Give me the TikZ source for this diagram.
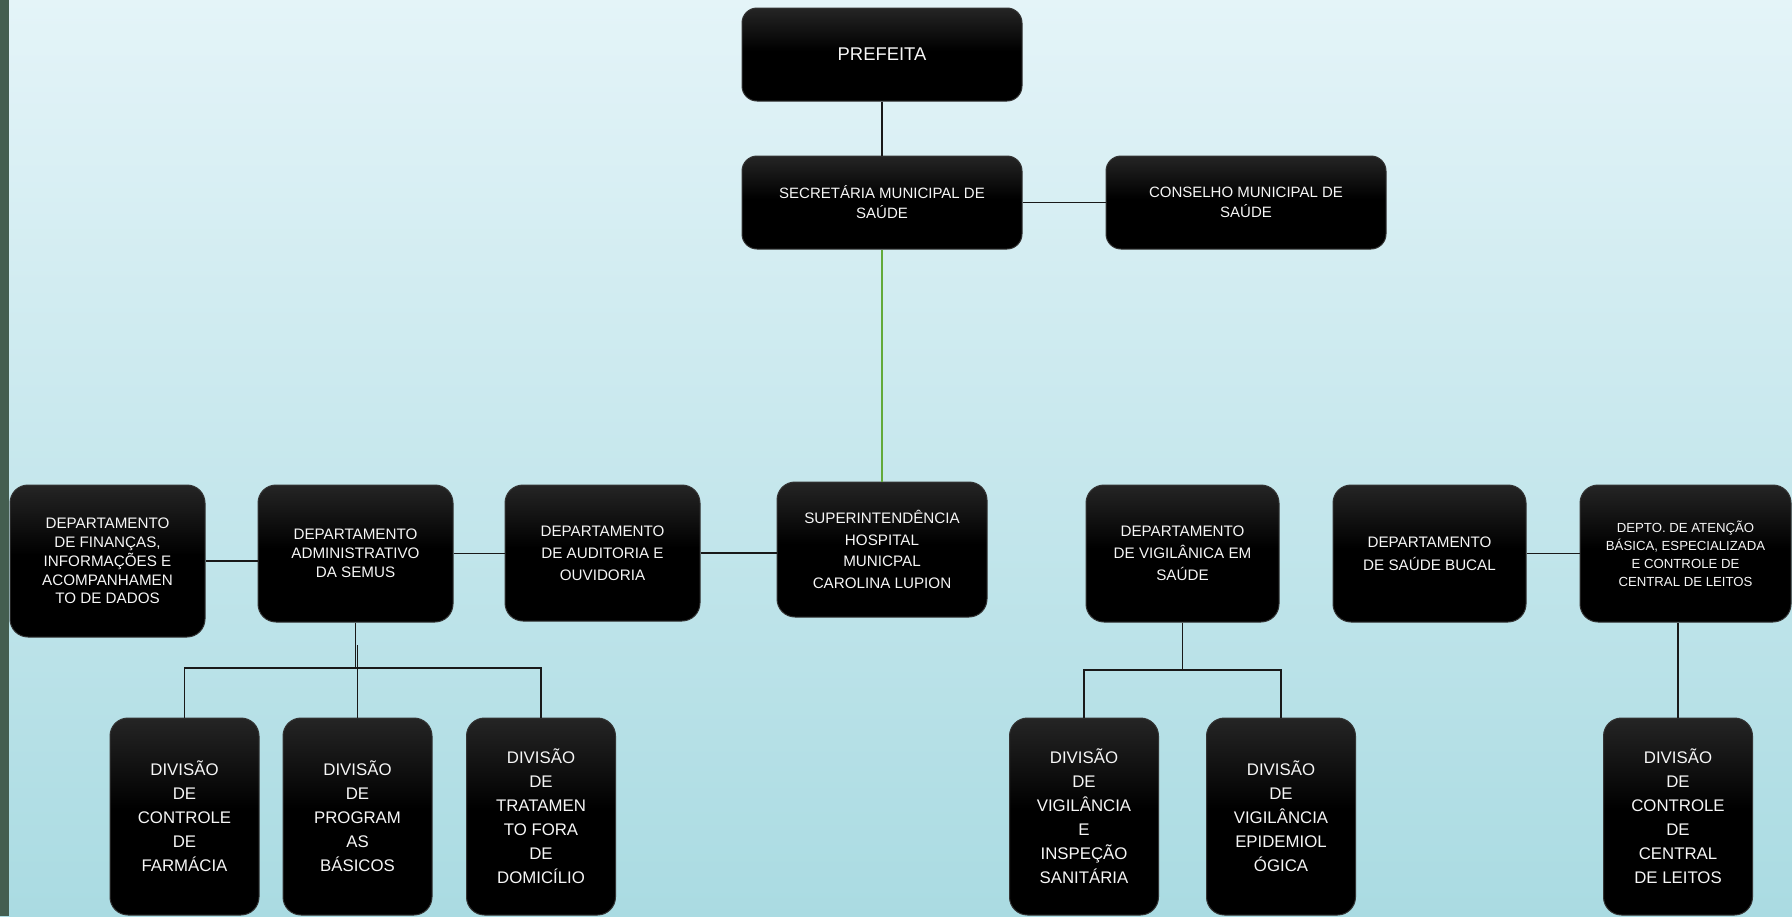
\documentclass[tikz,border=0pt]{standalone}
\usepackage{fontspec}
\setmainfont{Liberation Sans}
\usetikzlibrary{calc}
\definecolor{bgtop}{RGB}{228,244,248}
\definecolor{bgbot}{RGB}{170,219,226}
\definecolor{stripcol}{RGB}{68,94,80}
\definecolor{lnkgreen}{RGB}{98,170,58}
\definecolor{txtcol}{RGB}{246,246,246}
\pgfdeclareverticalshading{boxshade}{100bp}{color(0bp)=(black); color(52bp)=(black); color(100bp)=(black!70)}
\tikzset{
  box/.style={rectangle, rounded corners=9pt, shading=boxshade, draw=black!80, line width=0.5pt, text=txtcol, align=center, inner sep=0pt},
  topbox/.style={box, rounded corners=7.5pt, minimum width=140pt, minimum height=46.5pt},
  deptbox/.style={box, minimum height=68.5pt},
  divbox/.style={box, minimum width=74.5pt, minimum height=98.5pt, font=\fontsize{8.4}{12}\selectfont},
  conn/.style={draw=black!90, line width=0.8pt},
  greenconn/.style={draw=lnkgreen, line width=0.6pt}
}
\begin{document}
\begin{tikzpicture}[x=0.5pt,y=-0.5pt]
\useasboundingbox (0,0) rectangle (1792,916);
\shade[top color=bgtop, bottom color=bgbot] (0,0) rectangle (1792,916);
\fill[stripcol] (0,0) rectangle (9,916);

% top
\node[topbox, font=\fontsize{9.2}{11}\selectfont] (pref) at (882,54.5) {PREFEITA};
\node[topbox, font=\fontsize{7.5}{10}\selectfont] (sec) at (882,202.5) {SECRETÁRIA MUNICIPAL DE\\SAÚDE};
\node[topbox, font=\fontsize{7.5}{10}\selectfont] (cons) at (1246,202.5) {CONSELHO MUNICIPAL DE\\SAÚDE};

% departments
\node[deptbox, minimum width=97.5pt, minimum height=76pt, font=\fontsize{7.6}{9.4}\selectfont] (fin) at (107.5,561) {DEPARTAMENTO\\DE FINANÇAS,\\INFORMAÇÕES E\\ACOMPANHAMEN\\TO DE DADOS};
\node[deptbox, minimum width=97.5pt, font=\fontsize{7.6}{9.4}\selectfont] (adm) at (355.5,553.5) {DEPARTAMENTO\\ADMINISTRATIVO\\DA SEMUS};
\node[deptbox, minimum width=97.5pt, minimum height=68pt, font=\fontsize{7.6}{11}\selectfont] (aud) at (602.5,553) {DEPARTAMENTO\\DE AUDITORIA E\\OUVIDORIA};
\node[deptbox, minimum width=105pt, minimum height=67.5pt, font=\fontsize{7.6}{10.8}\selectfont] (sup) at (882,549.5) {SUPERINTENDÊNCIA\\HOSPITAL\\MUNICPAL\\CAROLINA LUPION};
\node[deptbox, minimum width=96.5pt, font=\fontsize{7.6}{11}\selectfont] (vig) at (1182.5,553.5) {DEPARTAMENTO\\DE VIGILÂNICA EM\\SAÚDE};
\node[deptbox, minimum width=96.5pt, font=\fontsize{7.6}{11.5}\selectfont] (buc) at (1429.5,553.5) {DEPARTAMENTO\\DE SAÚDE BUCAL};
\node[deptbox, minimum width=105.5pt, font=\fontsize{6.6}{9}\selectfont] (depto) at (1685.5,553.5) {DEPTO. DE ATENÇÃO\\BÁSICA, ESPECIALIZADA\\E CONTROLE DE\\CENTRAL DE LEITOS};

% divisions
\node[divbox] (farm) at (184.5,816.5) {DIVISÃO\\DE\\CONTROLE\\DE\\FARMÁCIA};
\node[divbox] (prog) at (357.5,816.5) {DIVISÃO\\DE\\PROGRAM\\AS\\BÁSICOS};
\node[divbox] (trat) at (541,816.5) {DIVISÃO\\DE\\TRATAMEN\\TO FORA\\DE\\DOMICÍLIO};
\node[divbox] (vis) at (1084,816.5) {DIVISÃO\\DE\\VIGILÂNCIA\\E\\INSPEÇÃO\\SANITÁRIA};
\node[divbox] (epi) at (1281,816.5) {DIVISÃO\\DE\\VIGILÂNCIA\\EPIDEMIOL\\ÓGICA};
\node[divbox] (leit) at (1678,816.5) {DIVISÃO\\DE\\CONTROLE\\DE\\CENTRAL\\DE LEITOS};

% bus coordinates
\coordinate (busA) at (356,668);
\coordinate (jogA) at (357.5,645);
\coordinate (busB) at (1182.5,670);

% connectors
\draw[conn] (pref) -- (sec);
\draw[conn] (sec) -- (cons);
\draw[greenconn] (sec.south) -- (sup.north);
\draw[conn] (fin.east) -- (fin.east -| adm.west);
\draw[conn] (adm.east) -- (adm.east -| aud.west);
\draw[conn] (aud.east) -- (aud.east -| sup.west);
\draw[conn] (buc.east) -- (buc.east -| depto.west);
\draw[conn] (adm.south) -- (adm.south |- busA);
\draw[conn] (farm.north) |- (busA) -| (trat.north);
\draw[conn] (prog.north) -- (prog.north |- jogA);
\draw[conn] (vig.south) -- (busB);
\draw[conn] (vis.north) |- (busB) -| (epi.north);
\draw[conn] (leit.north) -- (leit.north |- depto.south);
\end{tikzpicture}
\end{document}
